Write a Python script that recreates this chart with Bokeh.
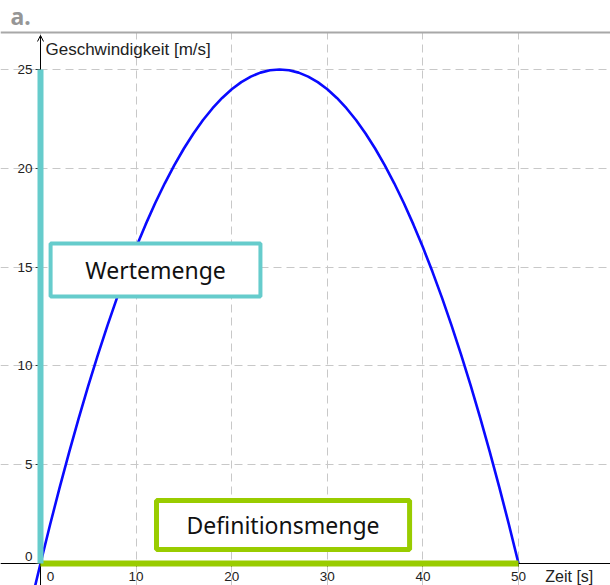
from bokeh.plotting import figure
from bokeh.models import FixedTicker, Label, Span, Arrow, OpenHead, Range1d, BoxAnnotation
from bokeh.embed import file_html
from bokeh.resources import INLINE

# ---- data ----
time_s = [-0.6, 0, 1, 2, 3, 4, 5, 6, 7, 8, 9, 10, 11, 12, 13, 14, 15, 16, 17, 18, 19, 20,
          21, 22, 23, 24, 25, 26, 27, 28, 29, 30, 31, 32, 33, 34, 35, 36, 37, 38, 39, 40,
          41, 42, 43, 44, 45, 46, 47, 48, 49, 50]
speed = [-1.21, 0.0, 1.96, 3.84, 5.64, 7.36, 9.0, 10.56, 12.04, 13.44, 14.76, 16.0,
         17.16, 18.24, 19.24, 20.16, 21.0, 21.76, 22.44, 23.04, 23.56, 24.0,
         24.36, 24.64, 24.84, 24.96, 25.0, 24.96, 24.84, 24.64, 24.36, 24.0,
         23.56, 23.04, 22.44, 21.76, 21.0, 20.16, 19.24, 18.24, 17.16, 16.0,
         14.76, 13.44, 12.04, 10.56, 9.0, 7.36, 5.64, 3.84, 1.96, 0.0]
domain_t = [0, 50]        # Definitionsmenge
range_v = [0, 25]         # Wertemenge
x_ticks = [0, 10, 20, 30, 40, 50, 60]
y_ticks = [0, 5, 10, 15, 20, 25]

TEAL = "#66cccc"
GREEN = "#99cc00"
BLUE = "#0a0aff"
TXT = "#222222"

p = figure(width=610, height=585, output_backend="svg", toolbar_location=None,
           x_range=Range1d(-4.184, 59.62), y_range=Range1d(-1.113, 28.49),
           min_border_left=0, min_border_right=0, min_border_bottom=0, min_border_top=0)
p.outline_line_color = None
p.background_fill_color = "white"
p.border_fill_color = "white"

# axes at the origin
p.xaxis.fixed_location = 0
p.yaxis.fixed_location = 0
p.xaxis.ticker = FixedTicker(ticks=x_ticks)
p.yaxis.ticker = FixedTicker(ticks=y_ticks)
p.xaxis.major_label_overrides = {0: ""}
p.yaxis.major_label_overrides = {0: ""}
for ax in (p.xaxis, p.yaxis):
    ax.minor_tick_line_color = None
    ax.major_label_text_font = "Liberation Sans"
    ax.major_label_text_font_size = "13.5px"
    ax.major_label_text_color = TXT
    ax.major_tick_in = 0
    ax.major_tick_line_color = "#333333"
    ax.axis_line_color = "black"
p.xaxis.major_tick_out = 3
p.xaxis.major_label_standoff = 5
p.yaxis.major_tick_out = 5
p.yaxis.major_label_standoff = 3
p.yaxis.axis_line_color = None

# grid
for g in (p.xgrid, p.ygrid):
    g.grid_line_color = "#c8c8c8"
    g.grid_line_dash = "8 5"
    g.grid_line_width = 1
p.xgrid.ticker = FixedTicker(ticks=x_ticks)
p.ygrid.ticker = FixedTicker(ticks=y_ticks)

# header area (white) and top gray rule
p.add_layout(BoxAnnotation(bottom=26.87, fill_color="white", fill_alpha=1.0, line_color=None))
p.add_layout(Span(location=26.87, dimension="width", line_color="#a8a8a8", line_width=2))

# y-axis with arrow
p.add_layout(Arrow(x_start=0, y_start=-1.3, x_end=0, y_end=26.72,
                   line_color="black", line_width=1,
                   end=OpenHead(size=6, line_width=1, line_color="black")))

# curve
p.line(time_s, speed, line_color=BLUE, line_width=2.6)

# boxes
p.rect(x=[12.03], y=[14.85], width=[21.95], height=[2.68], fill_color="white",
       line_color=TEAL, line_width=4)
p.rect(x=[25.37], y=[1.95], width=[26.47], height=[2.48], fill_color="white",
       line_color=GREEN, line_width=5)

# range / domain bars
r1 = p.line(domain_t, [0, 0], line_color=GREEN, line_width=6, line_cap="butt")
r2 = p.line([0, 0], range_v, line_color=TEAL, line_width=6, line_cap="butt")
r1.level = "overlay"
r2.level = "overlay"

# texts
p.add_layout(Label(x=12.03, y=14.85, text="Wertemenge", text_font="Noto Sans",
                   text_font_size="23px", text_align="center", text_baseline="middle",
                   text_color="#111111"))
p.add_layout(Label(x=25.37, y=1.95, text="Definitionsmenge", text_font="Noto Sans",
                   text_font_size="23px", text_align="center", text_baseline="middle",
                   text_color="#111111"))
p.add_layout(Label(x=0.52, y=26.0, text="Geschwindigkeit [m/s]", text_font="Liberation Sans",
                   text_font_size="17px", text_align="left", text_baseline="middle",
                   text_color=TXT))
p.add_layout(Label(x=52.8, y=-0.64, text="Zeit [s]", text_font="Liberation Sans",
                   text_font_size="16px", text_align="left", text_baseline="middle",
                   text_color=TXT))
p.add_layout(Label(x=-0.84, y=0.35, text="0", text_font="Liberation Sans",
                   text_font_size="13.5px", text_align="right", text_baseline="middle",
                   text_color=TXT))
p.add_layout(Label(x=1.05, y=-0.68, text="0", text_font="Liberation Sans",
                   text_font_size="13.5px", text_align="center", text_baseline="middle",
                   text_color=TXT))
p.add_layout(Label(x=-3.14, y=27.7, text="a.", text_font="Noto Sans",
                   text_font_size="23px", text_font_style="bold", text_align="left",
                   text_baseline="middle", text_color="#969696"))

open("out.html", "w").write(file_html(p, INLINE))
